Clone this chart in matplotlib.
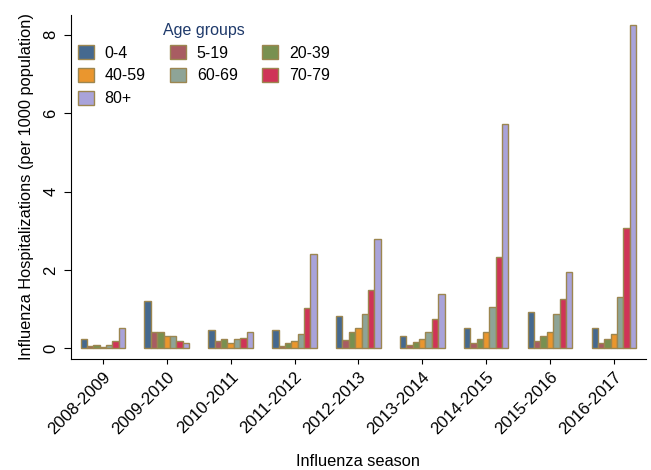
import numpy as np
import matplotlib
matplotlib.use('Agg')
import matplotlib.pyplot as plt

plt.rcParams['font.family'] = ['Liberation Sans', 'DejaVu Sans']

seasons = ['2008-2009', '2009-2010', '2010-2011', '2011-2012', '2012-2013',
           '2013-2014', '2014-2015', '2015-2016', '2016-2017']
age_groups = ['0-4', '5-19', '20-39', '40-59', '60-69', '70-79', '80+']

# hospitalizations per 1000 population, one list per age group
rate_0_4 = [0.25, 1.20, 0.48, 0.46, 0.84, 0.31, 0.51, 0.92, 0.51]
rate_5_19 = [0.06, 0.43, 0.18, 0.07, 0.21, 0.08, 0.13, 0.18, 0.15]
rate_20_39 = [0.08, 0.43, 0.23, 0.13, 0.42, 0.16, 0.24, 0.33, 0.23]
rate_40_59 = [0.05, 0.31, 0.15, 0.18, 0.51, 0.23, 0.43, 0.43, 0.38]
rate_60_69 = [0.10, 0.31, 0.23, 0.36, 0.87, 0.41, 1.07, 0.87, 1.30]
rate_70_79 = [0.20, 0.20, 0.28, 1.02, 1.48, 0.74, 2.34, 1.25, 3.08]
rate_80 = [0.53, 0.15, 0.41, 2.40, 2.78, 1.40, 5.71, 1.94, 8.25]

colors = ['#45698f', '#a85c62', '#789050', '#ea962e', '#8ea497', '#cf3457', '#a9a3da']
edge = '#9c8650'


def main():
    rates = [rate_0_4, rate_5_19, rate_20_39, rate_40_59, rate_60_69, rate_70_79, rate_80]
    x = np.arange(len(seasons))
    width = 0.1
    fs = 11.5

    fig = plt.figure(figsize=(6.51, 4.70), dpi=100)
    ax = fig.add_axes([0.109, 0.236, 0.883, 0.732])

    handles = []
    for i, (vals, c) in enumerate(zip(rates, colors)):
        offs = (i - 3) * width
        h = ax.bar(x + offs, vals, width, color=c, edgecolor=edge, linewidth=1,
                   label=age_groups[i])
        handles.append(h)

    ax.set_xlim(-0.5, 8.5)
    ax.set_ylim(-0.27, 8.5)
    ax.set_yticks([0, 2, 4, 6, 8])
    ax.set_xticks(x)
    ax.set_xticklabels(seasons, rotation=45, ha='right', rotation_mode='anchor', fontsize=12.2)
    ax.tick_params(axis='y', labelsize=12, length=5, pad=4, rotation=90)
    ax.tick_params(axis='x', length=3.5, pad=4)
    for lab in ax.get_yticklabels():
        lab.set_va('center')
    ax.spines['top'].set_visible(False)
    ax.spines['right'].set_visible(False)

    ax.set_ylabel('Influenza Hospitalizations (per 1000 population)', fontsize=11.8, labelpad=7)
    ax.set_xlabel('Influenza season', fontsize=11.8, labelpad=12)

    # column-major order so rows read 0-4,5-19,20-39 / 40-59,60-69,70-79 / 80+
    order = [0, 3, 6, 1, 4, 2, 5]
    leg = ax.legend([handles[k] for k in order], [age_groups[k] for k in order],
                    ncol=3, frameon=False, title='Age groups', fontsize=fs,
                    title_fontsize=fs, loc='upper left', bbox_to_anchor=(-0.008, 1.01),
                    handlelength=1.0, handleheight=1.0, columnspacing=1.5,
                    labelspacing=0.45, handletextpad=0.7, borderaxespad=0.3)
    leg.get_title().set_color('#1f3a6b')

    fig.savefig('out.png', dpi=100)


if __name__ == '__main__':
    main()
